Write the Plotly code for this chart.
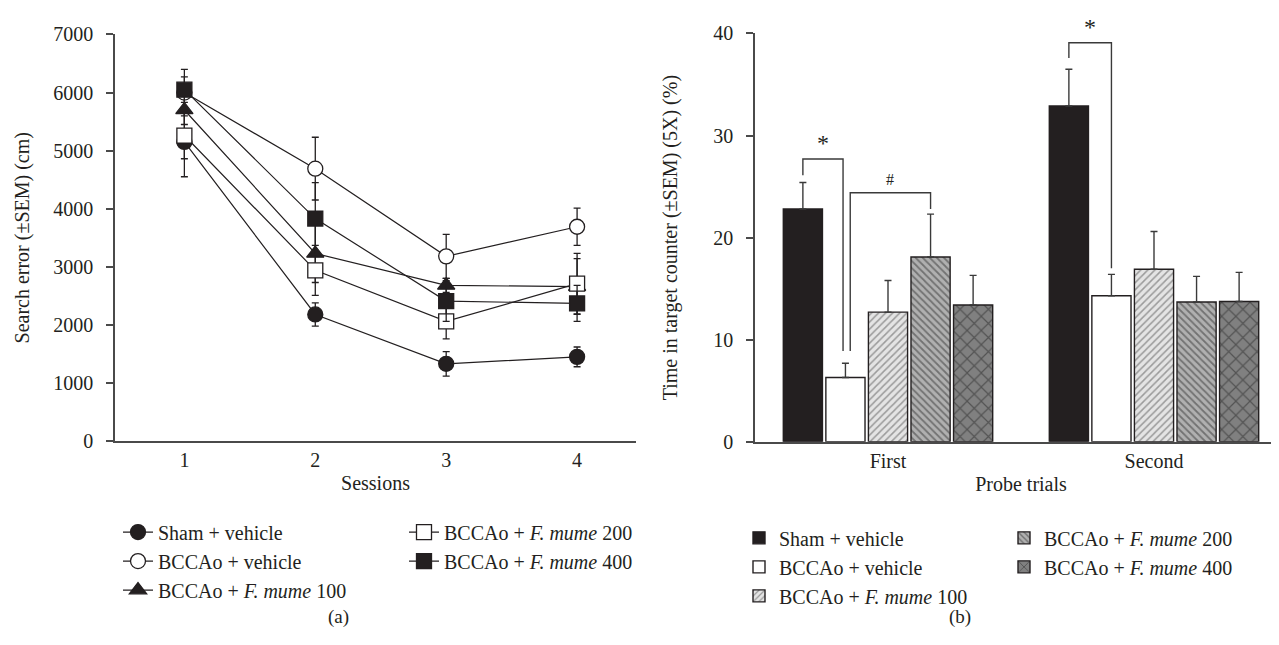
import plotly.graph_objects as go

# ---------------- data ----------------
sessions = [1, 2, 3, 4]
sham_vehicle = [5150, 2180, 1330, 1450]
sham_vehicle_err = [600, 200, 210, 170]
bccao_vehicle = [6000, 4690, 3180, 3690]
bccao_vehicle_err = [400, 540, 380, 320]
mume100 = [5700, 3230, 2680, 2660]
mume100_err = [250, 500, 120, 480]
mume200 = [5260, 2940, 2060, 2710]
mume200_err = [400, 430, 300, 520]
mume400 = [6050, 3830, 2410, 2370]
mume400_err = [220, 620, 350, 310]

probe_trials = ["First", "Second"]
bar_sham = [22.8, 32.9]
bar_sham_err = [2.6, 3.6]
bar_vehicle = [6.3, 14.3]
bar_vehicle_err = [1.4, 2.1]
bar_100 = [12.7, 16.9]
bar_100_err = [3.1, 3.7]
bar_200 = [18.1, 13.7]
bar_200_err = [4.2, 2.5]
bar_400 = [13.4, 13.75]
bar_400_err = [2.9, 2.85]

left_names = ["Sham + vehicle", "BCCAo + vehicle", "BCCAo + <i>F. mume</i> 100",
              "BCCAo + <i>F. mume</i> 200", "BCCAo + <i>F. mume</i> 400"]

# ---------------- style ----------------
W, H = 1279, 645
FONT = "Liberation Serif, Times New Roman, serif"
INK = "#231f20"
AX = "#4a4a4a"


def px(xp):
    return xp / W


def py(yp):
    return 1 - yp / H


fig = go.Figure()

line_series = [
    (sham_vehicle, sham_vehicle_err, "circle", INK, "legend"),
    (bccao_vehicle, bccao_vehicle_err, "circle", "white", "legend"),
    (mume100, mume100_err, "triangle-up", INK, "legend"),
    (mume200, mume200_err, "square", "white", "legend2"),
    (mume400, mume400_err, "square", INK, "legend2"),
]
for (vals, errs, sym, fill, lg), name in zip(line_series, left_names):
    fig.add_trace(go.Scatter(
        x=sessions, y=vals, name=name, legend=lg, mode="lines+markers",
        line=dict(color=INK, width=1.2),
        marker=dict(symbol=sym, size=15, color=fill, line=dict(color=INK, width=1.3)),
        error_y=dict(type="data", array=errs, visible=True, color=INK, thickness=1.3, width=3.5),
        xaxis="x", yaxis="y",
    ))

bar_series = [
    (bar_sham, bar_sham_err, dict(color=INK), "legend3"),
    (bar_vehicle, bar_vehicle_err, dict(color="white"), "legend3"),
    (bar_100, bar_100_err, dict(color="#e2e2e2",
                                pattern=dict(shape="/", bgcolor="#e4e4e4", fgcolor="#505050",
                                             size=5, solidity=0.3)), "legend3"),
    (bar_200, bar_200_err, dict(color="#aaaaaa",
                                pattern=dict(shape="\\", bgcolor="#b0b0b0", fgcolor="#333333",
                                             size=5, solidity=0.35)), "legend4"),
    (bar_400, bar_400_err, dict(color="#7a7a7a",
                                pattern=dict(shape="x", bgcolor="#808080", fgcolor="#262626",
                                             size=10, solidity=0.22)), "legend4"),
]
for (vals, errs, mk, lg), name in zip(bar_series, left_names):
    mk = dict(mk)
    mk["line"] = dict(color=INK, width=1.4)
    fig.add_trace(go.Bar(
        x=probe_trials, y=vals, name=name, legend=lg, marker=mk,
        error_y=dict(type="data", array=errs, arrayminus=[0] * len(errs), symmetric=False,
                     visible=True, color="#3a3a3a", thickness=1.4, width=3.5),
        xaxis="x2", yaxis="y2",
    ))

tickfont = dict(family=FONT, size=20, color=INK)
titlefont = dict(family=FONT, size=20, color=INK)
legfont = dict(family=FONT, size=20, color=INK)

fig.update_layout(
    width=W, height=H,
    margin=dict(l=0, r=0, t=0, b=0),
    paper_bgcolor="white", plot_bgcolor="white",
    font=dict(family=FONT, size=20, color=INK),
    barmode="group", bargap=0.2, bargroupgap=0.08,
    xaxis=dict(domain=[px(107), px(628)], range=[0.47, 4.45], tickvals=sessions,
               showgrid=False, zeroline=False, showline=True, linecolor=AX, linewidth=1.5,
               ticks="", tickfont=tickfont,
               title=dict(text="Sessions", font=titlefont, standoff=6)),
    yaxis=dict(domain=[py(437), py(16)], range=[0, 7000], dtick=1000,
               showgrid=False, zeroline=False, showline=True, linecolor=AX, linewidth=1.5,
               ticks="outside", ticklen=7, tickcolor=AX, tickwidth=1.5, tickfont=tickfont,
               ticklabelstandoff=9,
               title=dict(text="Search error (±SEM) (cm)", font=titlefont, standoff=18)),
    xaxis2=dict(domain=[px(747), 1.0], range=[-0.5, 1.5], type="category",
                showgrid=False, zeroline=False, showline=True, linecolor=AX, linewidth=1.5,
                ticks="", tickfont=tickfont, anchor="y2",
                title=dict(text="Probe trials", font=titlefont, standoff=6)),
    yaxis2=dict(domain=[py(437.7), py(15)], range=[0, 40], dtick=10, anchor="x2",
                showgrid=False, zeroline=False, showline=True, linecolor=AX, linewidth=1.5,
                ticks="outside", ticklen=7, tickcolor=AX, tickwidth=1.5, tickfont=tickfont,
                ticklabelstandoff=9,
                title=dict(text="Time in target counter (±SEM) (5X) (%)", font=titlefont, standoff=30)),
    legend=dict(x=px(110), y=py(511), xanchor="left", yanchor="top", bgcolor="rgba(0,0,0,0)",
                font=legfont, tracegroupgap=0),
    legend2=dict(x=px(396), y=py(511), xanchor="left", yanchor="top", bgcolor="rgba(0,0,0,0)",
                 font=legfont, tracegroupgap=0),
    legend3=dict(x=px(731), y=py(517), xanchor="left", yanchor="top", bgcolor="rgba(0,0,0,0)",
                 font=legfont, tracegroupgap=0),
    legend4=dict(x=px(996), y=py(517), xanchor="left", yanchor="top", bgcolor="rgba(0,0,0,0)",
                 font=legfont, tracegroupgap=0),
)

# significance brackets (panel b)
bracket_style = dict(color="#3a3a3a", width=1.4)
brackets = [
    [(-0.32, 26.1), (-0.32, 27.7), (-0.169, 27.7), (-0.169, 8.9)],
    [(-0.142, 8.9), (-0.142, 24.4), (0.16, 24.4), (0.16, 22.8)],
    [(0.68, 37.6), (0.68, 39.1), (0.84, 39.1), (0.84, 17.0)],
]
for pts in brackets:
    path = "M " + " L ".join(f"{x},{y}" for x, y in pts)
    fig.add_shape(type="path", path=path, xref="x2", yref="y2", line=bracket_style)

# significance marks
fig.add_annotation(x=-0.245, y=29.3, xref="x2", yref="y2", text="*", showarrow=False,
                   font=dict(family=FONT, size=24, color=INK))
fig.add_annotation(x=0.009, y=25.7, xref="x2", yref="y2", text="#", showarrow=False,
                   font=dict(family=FONT, size=16, color=INK))
fig.add_annotation(x=0.76, y=py(8), xref="x2", yref="paper", text="*", showarrow=False,
                   yanchor="middle", font=dict(family=FONT, size=24, color=INK))

fig.add_annotation(x=px(318), y=py(633), xref="paper", yref="paper", text="(a)",
                   showarrow=False, font=dict(family=FONT, size=19, color=INK))
fig.add_annotation(x=px(965), y=py(633), xref="paper", yref="paper", text="(b)",
                   showarrow=False, font=dict(family=FONT, size=19, color=INK))

fig.write_html("out.html")
